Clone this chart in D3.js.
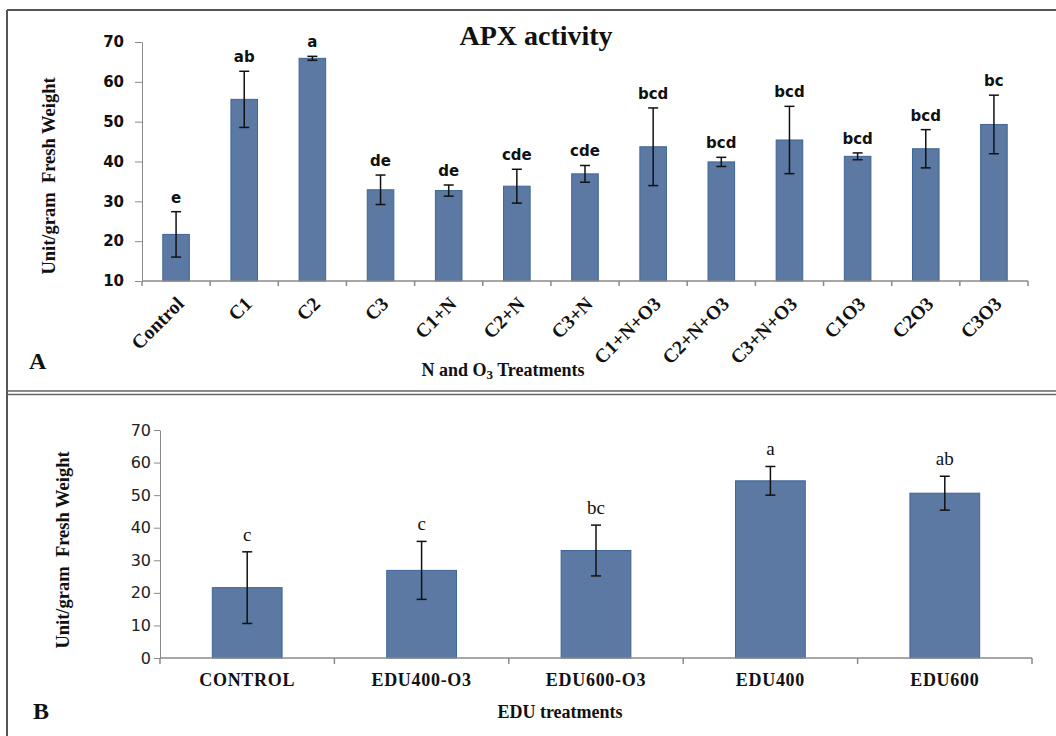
<!DOCTYPE html>
<html><head><meta charset="utf-8">
<script src="https://cdn.jsdelivr.net/npm/d3@7/dist/d3.min.js"></script>
<style>
html,body{margin:0;padding:0;background:#fff;}
svg{display:block;}
</style></head>
<body>
<svg id="chart" width="1056" height="736"></svg>
<script>
// ---- Panel A data ----
const catsA = ["Control","C1","C2","C3","C1+N","C2+N","C3+N","C1+N+O3","C2+N+O3","C3+N+O3","C1O3","C2O3","C3O3"];
const meanA = [21.7, 55.6, 65.9, 32.9, 32.7, 33.8, 36.9, 43.7, 39.9, 45.4, 41.3, 43.2, 49.3];
const errA  = [5.7, 7.05, 0.5, 3.7, 1.4, 4.25, 2.1, 9.75, 1.15, 8.45, 0.85, 4.8, 7.35];
const lettersA = ["e","ab","a","de","de","cde","cde","bcd","bcd","bcd","bcd","bcd","bc"];
const ticksA = [10,20,30,40,50,60,70];

// ---- Panel B data ----
const catsB = ["CONTROL","EDU400-O3","EDU600-O3","EDU400","EDU600"];
const meanB = [21.6, 26.9, 33.0, 54.4, 50.6];
const errB  = [11.0, 8.9, 7.8, 4.4, 5.2];
const lettersB = ["c","c","bc","a","ab"];
const ticksB = [0,10,20,30,40,50,60,70];

const svg = d3.select("#chart");
const barFill = "#5b79a3", barStroke = "#3f6596", axisCol = "#8a8a8a";
const serif = "'Liberation Serif','Times New Roman',serif";
const sans = "'DejaVu Sans',Verdana,sans-serif";

// frame
svg.append("line").attr("x1",7).attr("x2",1056).attr("y1",10).attr("y2",10).attr("stroke","#555").attr("stroke-width",2);
svg.append("line").attr("x1",7).attr("x2",7).attr("y1",10).attr("y2",736).attr("stroke","#555").attr("stroke-width",2);
svg.append("line").attr("x1",7).attr("x2",1056).attr("y1",391).attr("y2",391).attr("stroke","#666").attr("stroke-width",1.5);
svg.append("line").attr("x1",7).attr("x2",1056).attr("y1",394.5).attr("y2",394.5).attr("stroke","#666").attr("stroke-width",1.5);

function panel(opts){
  const {cats, mean, err, letters, ticks, x0, x1, yTop, yBot, dom, barFrac,
         tickFont, tickWeight, tickSize, tickColor, letterFont, letterWeight, letterSize, letterGap} = opts;
  const g = svg.append("g");
  const x = d3.scaleBand().domain(cats).range([x0, x1]).padding(0);
  const y = d3.scaleLinear().domain(dom).range([yBot, yTop]);
  const bw = x.bandwidth()*barFrac;

  // y axis
  const ya = g.append("g").attr("transform",`translate(${x0},0)`)
    .call(d3.axisLeft(y).tickValues(ticks).tickSize(opts.yTick).tickPadding(opts.yPad).tickSizeOuter(0));
  ya.select(".domain").attr("stroke",axisCol);
  ya.selectAll(".tick line").attr("stroke",axisCol);
  ya.selectAll(".tick text").attr("font-family",tickFont).attr("font-weight",tickWeight)
    .attr("font-size",tickSize).attr("fill",tickColor);

  // bars
  g.selectAll("rect.bar").data(cats).enter().append("rect")
    .attr("x", (c)=>x(c)+(x.bandwidth()-bw)/2)
    .attr("y", (c,i)=>y(mean[i]))
    .attr("width", bw)
    .attr("height", (c,i)=>y(dom[0])-y(mean[i]))
    .attr("fill",barFill).attr("stroke",barStroke).attr("stroke-width",1);

  // x axis line + ticks
  g.append("line").attr("x1",x0).attr("x2",x1).attr("y1",yBot).attr("y2",yBot).attr("stroke",axisCol).attr("stroke-width",1.5);
  const tickPos = cats.map(c=>x(c)).concat([x1]);
  g.selectAll("line.xt").data(tickPos).enter().append("line")
    .attr("x1",d=>d).attr("x2",d=>d).attr("y1",yBot).attr("y2",yBot+opts.xTick)
    .attr("stroke",axisCol).attr("stroke-width",1.5);

  // error bars
  const cap = opts.cap;
  cats.forEach((c,i)=>{
    const cx = x(c)+x.bandwidth()/2;
    const t = y(mean[i]+err[i]), b = y(mean[i]-err[i]);
    g.append("line").attr("x1",cx).attr("x2",cx).attr("y1",t).attr("y2",b).attr("stroke","#111").attr("stroke-width",1.5);
    g.append("line").attr("x1",cx-cap).attr("x2",cx+cap).attr("y1",t).attr("y2",t).attr("stroke","#111").attr("stroke-width",1.5);
    g.append("line").attr("x1",cx-cap).attr("x2",cx+cap).attr("y1",b).attr("y2",b).attr("stroke","#111").attr("stroke-width",1.5);
    g.append("text").attr("x",cx).attr("y",t-letterGap).attr("text-anchor","middle")
      .attr("font-family",letterFont).attr("font-weight",letterWeight).attr("font-size",letterSize)
      .attr("fill","#111").text(letters[i]);
  });
  return {g,x,y};
}

// Panel A
const A = panel({cats:catsA, mean:meanA, err:errA, letters:lettersA, ticks:ticksA,
  x0:142, x1:1028, yTop:42, yBot:281, dom:[10,70], barFrac:0.39,
  tickFont:sans, tickWeight:"bold", tickSize:15, tickColor:"#111", yTick:7, yPad:11, xTick:5,
  letterFont:sans, letterWeight:"bold", letterSize:15, letterGap:9, cap:5});
A.g.selectAll("text.xl").data(catsA).enter().append("text")
  .attr("transform", c=>`translate(${A.x(c)+A.x.bandwidth()/2+9},305) rotate(-45)`)
  .attr("text-anchor","end").attr("font-family",serif).attr("font-weight","bold").attr("font-size",19.5)
  .attr("fill","#111").text(c=>c);

svg.append("text").attr("x",536).attr("y",45).attr("text-anchor","middle")
  .attr("font-family",serif).attr("font-weight","bold").attr("font-size",28).attr("fill","#111").text("APX activity");
svg.append("text").attr("transform","translate(55,176) rotate(-90)").attr("text-anchor","middle")
  .attr("font-family",serif).attr("font-weight","bold").attr("font-size",18.5).attr("fill","#111")
  .attr("xml:space","preserve").text("Unit/gram  Fresh Weight");
const xt = svg.append("text").attr("x",503).attr("y",376).attr("text-anchor","middle")
  .attr("font-family",serif).attr("font-weight","bold").attr("font-size",18).attr("fill","#111");
xt.append("tspan").text("N and O");
xt.append("tspan").attr("font-size",13).attr("dy",3).text("3");
xt.append("tspan").attr("dy",-3).text(" Treatments");
svg.append("text").attr("x",29).attr("y",369).attr("font-family",serif).attr("font-weight","bold")
  .attr("font-size",24).attr("fill","#111").text("A");

// Panel B
const B = panel({cats:catsB, mean:meanB, err:errB, letters:lettersB, ticks:ticksB,
  x0:160, x1:1032, yTop:430, yBot:658, dom:[0,70], barFrac:0.4,
  tickFont:sans, tickWeight:"normal", tickSize:16, tickColor:"#222", yTick:6, yPad:3, xTick:6,
  letterFont:serif, letterWeight:"normal", letterSize:19, letterGap:11, cap:5});
B.g.selectAll("text.xl").data(catsB).enter().append("text")
  .attr("x", c=>B.x(c)+B.x.bandwidth()/2).attr("y",686).attr("text-anchor","middle")
  .attr("font-family",serif).attr("font-weight","bold").attr("font-size",18).attr("letter-spacing",0.7)
  .attr("fill","#111").text(c=>c);
svg.append("text").attr("transform","translate(69,550) rotate(-90)").attr("text-anchor","middle")
  .attr("font-family",serif).attr("font-weight","bold").attr("font-size",18.5).attr("fill","#111")
  .attr("xml:space","preserve").text("Unit/gram  Fresh Weight");
svg.append("text").attr("x",560).attr("y",718).attr("text-anchor","middle")
  .attr("font-family",serif).attr("font-weight","bold").attr("font-size",18).attr("fill","#111").text("EDU treatments");
svg.append("text").attr("x",33).attr("y",719).attr("font-family",serif).attr("font-weight","bold")
  .attr("font-size",24).attr("fill","#111").text("B");
</script>
</body></html>
